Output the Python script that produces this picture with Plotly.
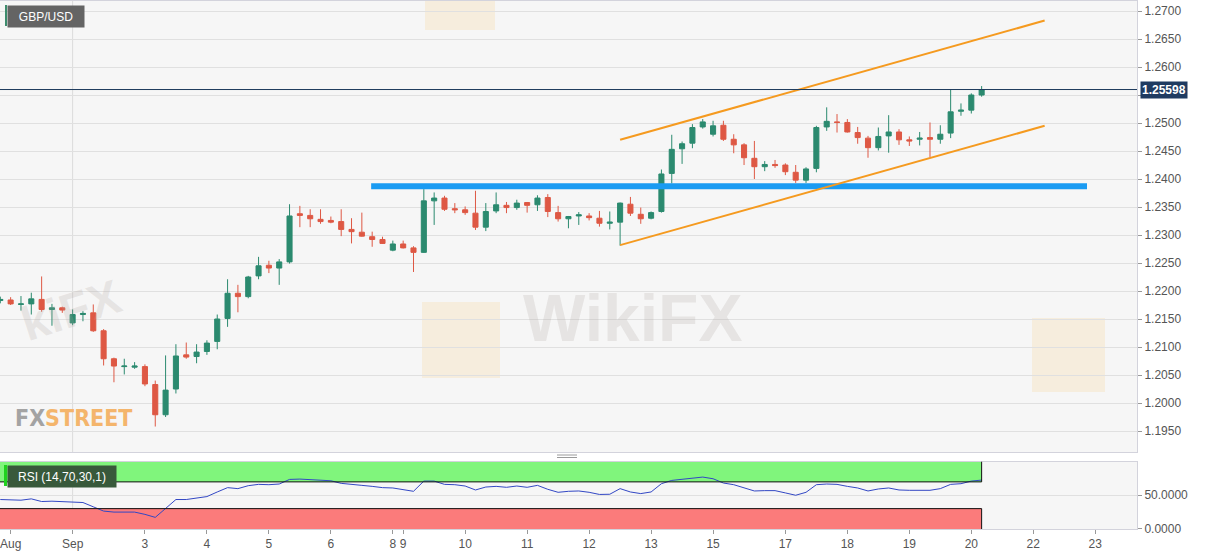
import plotly.graph_objects as go

# ---------------- data ----------------
open_ = [1.2183, 1.2184, 1.2176, 1.2177, 1.2185, 1.2167, 1.2170, 1.2143, 1.2158, 1.2161,
         1.2129, 1.2079, 1.2065, 1.2064, 1.2065, 1.2033, 1.1979, 1.2025, 1.2086, 1.2083,
         1.2092, 1.2110, 1.2151, 1.2196, 1.2190, 1.2227, 1.2246, 1.2241, 1.2252, 1.2338,
         1.2335, 1.2328, 1.2326, 1.2324, 1.2310, 1.2305, 1.2297, 1.2292, 1.2273, 1.2284,
         1.2277, 1.2269, 1.2361, 1.2366, 1.2347, 1.2345, 1.2339, 1.2314, 1.2343, 1.2353,
         1.2349, 1.2358, 1.2354, 1.2367, 1.2340, 1.2329, 1.2334, 1.2334, 1.2330, 1.2321,
         1.2323, 1.2355, 1.2337, 1.2330, 1.2342, 1.2410, 1.2454, 1.2464, 1.2493, 1.2480,
         1.2496, 1.2471, 1.2461, 1.2437, 1.2422, 1.2426, 1.2425, 1.2412, 1.2398, 1.2419,
         1.2493, 1.2502, 1.2501, 1.2483, 1.2473, 1.2456, 1.2477, 1.2484, 1.2470, 1.2471,
         1.2474, 1.2471, 1.2482, 1.2521, 1.2523, 1.2550]
high = [1.2190, 1.2189, 1.2191, 1.2197, 1.2226, 1.2177, 1.2172, 1.2167, 1.2164, 1.2176,
        1.2132, 1.2081, 1.2079, 1.2073, 1.2069, 1.2040, 1.2085, 1.2105, 1.2108, 1.2105,
        1.2112, 1.2158, 1.2221, 1.2211, 1.2227, 1.2261, 1.2254, 1.2257, 1.2355, 1.2352,
        1.2346, 1.2346, 1.2333, 1.2346, 1.2330, 1.2340, 1.2306, 1.2297, 1.2290, 1.2290,
        1.2280, 1.2382, 1.2376, 1.2370, 1.2357, 1.2351, 1.2379, 1.2357, 1.2376, 1.2359,
        1.2363, 1.2359, 1.2371, 1.2373, 1.2352, 1.2334, 1.2341, 1.2339, 1.2343, 1.2342,
        1.2358, 1.2368, 1.2349, 1.2342, 1.2417, 1.2479, 1.2467, 1.2498, 1.2507, 1.2504,
        1.2504, 1.2480, 1.2464, 1.2468, 1.2432, 1.2434, 1.2428, 1.2425, 1.2421, 1.2495,
        1.2528, 1.2516, 1.2507, 1.2493, 1.2477, 1.2492, 1.2514, 1.2489, 1.2476, 1.2484,
        1.2501, 1.2496, 1.2560, 1.2535, 1.2553, 1.2566]
low = [1.2178, 1.2175, 1.2165, 1.2158, 1.2163, 1.2138, 1.2161, 1.2139, 1.2146, 1.2127,
       1.2067, 1.2037, 1.2051, 1.2061, 1.2030, 1.1958, 1.1975, 1.2017, 1.2079, 1.2071,
       1.2086, 1.2096, 1.2136, 1.2162, 1.2187, 1.2221, 1.2232, 1.2211, 1.2249, 1.2314,
       1.2314, 1.2320, 1.2321, 1.2298, 1.2285, 1.2297, 1.2279, 1.2284, 1.2271, 1.2276,
       1.2234, 1.2268, 1.2318, 1.2343, 1.2339, 1.2336, 1.2309, 1.2307, 1.2339, 1.2339,
       1.2345, 1.2340, 1.2343, 1.2332, 1.2324, 1.2312, 1.2318, 1.2326, 1.2315, 1.2310,
       1.2281, 1.2334, 1.2320, 1.2328, 1.2340, 1.2392, 1.2427, 1.2455, 1.2490, 1.2476,
       1.2468, 1.2446, 1.2425, 1.2400, 1.2414, 1.2420, 1.2407, 1.2393, 1.2393, 1.2412,
       1.2486, 1.2483, 1.2483, 1.2463, 1.2438, 1.2451, 1.2447, 1.2461, 1.2459, 1.2460,
       1.2439, 1.2463, 1.2473, 1.2513, 1.2517, 1.2547]
close = [1.2185, 1.2177, 1.2177, 1.2186, 1.2167, 1.2170, 1.2166, 1.2158, 1.2160, 1.2129,
         1.2079, 1.2066, 1.2066, 1.2066, 1.2034, 1.1979, 1.2023, 1.2084, 1.2082, 1.2091,
         1.2107, 1.2150, 1.2196, 1.2190, 1.2225, 1.2245, 1.2241, 1.2252, 1.2334, 1.2335,
         1.2329, 1.2324, 1.2323, 1.2310, 1.2306, 1.2298, 1.2292, 1.2285, 1.2284, 1.2277,
         1.2269, 1.2361, 1.2366, 1.2346, 1.2345, 1.2340, 1.2314, 1.2342, 1.2354, 1.2349,
         1.2357, 1.2353, 1.2366, 1.2342, 1.2329, 1.2333, 1.2336, 1.2331, 1.2321, 1.2323,
         1.2357, 1.2339, 1.2329, 1.2340, 1.2409, 1.2453, 1.2463, 1.2492, 1.2502, 1.2495,
         1.2471, 1.2461, 1.2438, 1.2422, 1.2426, 1.2424, 1.2413, 1.2398, 1.2418, 1.2492,
         1.2503, 1.2501, 1.2484, 1.2474, 1.2456, 1.2476, 1.2484, 1.2470, 1.2468, 1.2473,
         1.2471, 1.2480, 1.2520, 1.2523, 1.2550, 1.25598]
rsi = [43.6, 42.6, 42.6, 44.6, 40.6, 41.1, 40.1, 39.1, 39.1, 32.7,
       26.3, 24.8, 24.8, 24.8, 21.4, 16.9, 30.2, 43.6, 43.6, 45.6,
       48.0, 54.9, 61.4, 59.9, 64.3, 66.3, 65.8, 66.8, 73.7, 74.2,
       73.2, 72.2, 71.7, 67.8, 66.8, 64.8, 63.3, 61.4, 60.9, 58.9,
       55.9, 71.2, 71.2, 66.3, 65.8, 63.8, 57.9, 62.3, 63.3, 61.9,
       63.8, 61.9, 64.8, 58.9, 54.4, 55.9, 56.4, 54.4, 51.2, 51.5,
       59.9, 54.9, 52.5, 54.9, 67.3, 72.2, 73.7, 76.2, 77.2, 74.7,
       68.3, 65.8, 60.9, 56.4, 56.9, 56.9, 53.5, 50.0, 54.4, 65.8,
       66.8, 66.3, 63.3, 60.9, 56.4, 59.4, 60.9, 57.9, 57.4, 57.4,
       57.4, 59.9, 66.3, 67.3, 71.2, 72.7]
candle_idx = list(range(len(close)))

date_tick_pos = [1, 7, 14, 20, 26, 32, 38, 39, 45, 51, 57, 63, 69, 76, 82, 88, 94, 100, 106]
date_tick_text = ["Aug", "Sep", "3", "4", "5", "6", "8", "9", "10", "11", "12",
                  "13", "15", "17", "18", "19", "20", "22", "23"]
price_ticks = [1.1950, 1.2000, 1.2050, 1.2100, 1.2150, 1.2200, 1.2250, 1.2300,
               1.2350, 1.2400, 1.2450, 1.2500, 1.2550, 1.2600, 1.2650, 1.2700]
# 1.2550 sits under the last-price tag, so its label is not shown
price_tick_text = ["1.1950", "1.2000", "1.2050", "1.2100", "1.2150", "1.2200", "1.2250", "1.2300",
                   "1.2350", "1.2400", "1.2450", "1.2500", "", "1.2600", "1.2650", "1.2700"]
rsi_ticks = [0, 50]
rsi_tick_text = ["0.0000", "50.0000"]
rsi_overbought, rsi_oversold = 70, 30

support_x = [35.9, 105.2]
support_y = [1.2387, 1.2387]
channel_x = [60, 101.1]
channel_upper_y = [1.2470, 1.2683]
channel_lower_y = [1.2282, 1.2495]
last_price = 1.25598
month_break = 7

# ---------------- styles ----------------
GREEN = "#2b8a6f"
RED = "#de5844"
W, H = 1207, 555
ML, MR, MT, MB = 0, 70, 0, 26
PW, PH = W - ML - MR, H - MT - MB


def pxx(px):
    return (px - ML) / PW


def pxy(py):
    return (PH - (py - MT)) / PH


FONT = "Liberation Sans, Arial, sans-serif"
WM = "rgba(175,165,160,0.22)"
WM_LOGO = "rgba(246,205,130,0.22)"

fig = go.Figure()
fig.add_trace(go.Candlestick(
    x=candle_idx, open=open_, high=high, low=low, close=close,
    increasing=dict(line=dict(color=GREEN, width=1), fillcolor=GREEN),
    decreasing=dict(line=dict(color=RED, width=1), fillcolor=RED),
    whiskerwidth=0, showlegend=False, hoverinfo="skip", xaxis="x", yaxis="y"))

fig.add_trace(go.Scatter(x=support_x, y=support_y, mode="lines",
                         line=dict(color="#1a9bf2", width=6), showlegend=False,
                         hoverinfo="skip", xaxis="x", yaxis="y"))
fig.add_trace(go.Scatter(x=channel_x, y=channel_upper_y, mode="lines",
                         line=dict(color="#f59a1f", width=2), showlegend=False,
                         hoverinfo="skip", xaxis="x", yaxis="y"))
fig.add_trace(go.Scatter(x=channel_x, y=channel_lower_y, mode="lines",
                         line=dict(color="#f59a1f", width=2), showlegend=False,
                         hoverinfo="skip", xaxis="x", yaxis="y"))

fig.add_trace(go.Scatter(x=candle_idx, y=rsi, mode="lines",
                         line=dict(color="#3247c4", width=1), showlegend=False,
                         hoverinfo="skip", xaxis="x2", yaxis="y2"))

last_i = candle_idx[-1]
shapes = [
    # RSI zones
    dict(type="rect", xref="x2", yref="y2", x0=-0.5, x1=last_i, y0=rsi_overbought, y1=100.5,
         fillcolor="#80f57c", line=dict(width=0), layer="below"),
    dict(type="rect", xref="x2", yref="y2", x0=-0.5, x1=last_i, y0=-0.5, y1=rsi_oversold,
         fillcolor="#fb7b7b", line=dict(width=0), layer="below"),
    dict(type="line", xref="x2", yref="y2", x0=-0.5, x1=last_i, y0=rsi_overbought, y1=rsi_overbought,
         line=dict(color="#111", width=1)),
    dict(type="line", xref="x2", yref="y2", x0=-0.5, x1=last_i, y0=rsi_oversold, y1=rsi_oversold,
         line=dict(color="#111", width=1)),
    dict(type="line", xref="x2", yref="y2", x0=last_i, x1=last_i, y0=rsi_overbought, y1=100.5,
         line=dict(color="#111", width=1)),
    dict(type="line", xref="x2", yref="y2", x0=last_i, x1=last_i, y0=-0.5, y1=rsi_oversold,
         line=dict(color="#111", width=1)),
    # month break vertical grid lines
    dict(type="line", xref="x", yref="y domain", x0=month_break, x1=month_break, y0=0, y1=1,
         line=dict(color="#dcdcdc", width=1), layer="below"),
    dict(type="line", xref="x2", yref="y2 domain", x0=month_break, x1=month_break, y0=0, y1=1,
         line=dict(color="#dcdcdc", width=1), layer="below"),
    # last price line
    dict(type="line", xref="paper", yref="y", x0=0, x1=1, y0=last_price, y1=last_price,
         line=dict(color="#1d3a5c", width=1)),
    # GBP/USD label accent
    dict(type="rect", xref="paper", yref="paper", x0=pxx(5), x1=pxx(7), y0=pxy(26), y1=pxy(5),
         fillcolor="#3d8c6d", line=dict(width=0)),
    # RSI label accent
    dict(type="rect", xref="paper", yref="paper", x0=pxx(4), x1=pxx(7), y0=pxy(486), y1=pxy(465),
         fillcolor="#1fd21f", line=dict(width=0)),
    # panel splitter handle
    dict(type="line", xref="paper", yref="paper", x0=pxx(557), x1=pxx(577), y0=pxy(455), y1=pxy(455),
         line=dict(color="#9a9a9a", width=1)),
    dict(type="line", xref="paper", yref="paper", x0=pxx(557), x1=pxx(577), y0=pxy(457.5), y1=pxy(457.5),
         line=dict(color="#9a9a9a", width=1)),
    # watermark logo squares
    dict(type="rect", xref="paper", yref="paper", x0=pxx(422), x1=pxx(500), y0=pxy(378), y1=pxy(302),
         fillcolor=WM_LOGO, line=dict(width=0), layer="below"),
    dict(type="rect", xref="paper", yref="paper", x0=pxx(1032), x1=pxx(1105), y0=pxy(392), y1=pxy(318),
         fillcolor=WM_LOGO, line=dict(width=0), layer="below"),
    dict(type="rect", xref="paper", yref="paper", x0=pxx(425), x1=pxx(495), y0=pxy(30), y1=pxy(1),
         fillcolor=WM_LOGO, line=dict(width=0), layer="below"),
]

annotations = [
    dict(xref="paper", yref="paper", x=pxx(7), y=pxy(5), xanchor="left", yanchor="top",
         text="GBP/USD", showarrow=False, bgcolor="#646464", width=72, height=17, borderpad=2,
         font=dict(color="white", size=12, family=FONT)),
    dict(xref="paper", yref="y", x=1, y=last_price, xanchor="left", yanchor="middle", xshift=3,
         text="<b>1.25598</b>", showarrow=False, bgcolor="#1f3b61", borderpad=1,
         font=dict(color="white", size=12, family=FONT)),
    dict(xref="paper", yref="paper", x=pxx(7), y=pxy(465), xanchor="left", yanchor="top",
         text="RSI (14,70,30,1)", showarrow=False, bgcolor="#38593b", width=104, height=17,
         borderpad=2, font=dict(color="white", size=12, family=FONT)),
    dict(xref="paper", yref="paper", x=pxx(13), y=pxy(418), xanchor="left", yanchor="middle",
         text="<b><span style='color:#a3a3a3'>FX</span><span style='color:#f4b56c'>STREET</span></b>",
         showarrow=False,
         font=dict(size=23, family="DejaVu Sans Condensed, Liberation Sans Narrow, Liberation Sans, sans-serif")),
    dict(xref="paper", yref="paper", x=pxx(632), y=pxy(318), xanchor="center", yanchor="middle",
         text="<b>WikiFX</b>", showarrow=False,
         font=dict(size=66, family=FONT, color=WM)),
    dict(xref="paper", yref="paper", x=pxx(70), y=pxy(310), xanchor="center", yanchor="middle",
         text="<b>kiFX</b>", showarrow=False, textangle=-18,
         font=dict(size=48, family=FONT, color=WM)),
]

fig.update_layout(
    width=W, height=H, template="none",
    margin=dict(l=ML, r=MR, t=MT, b=MB, pad=0),
    paper_bgcolor="white", plot_bgcolor="#f6f6f6",
    font=dict(family=FONT, size=12, color="#555"),
    showlegend=False, shapes=shapes, annotations=annotations,
    xaxis=dict(domain=[0, 1], range=[-0.03, 110.04], anchor="y", showticklabels=False,
               showgrid=False, zeroline=False, showline=True, mirror=True,
               linecolor="#d3d3dc", rangeslider=dict(visible=False), automargin=False),
    yaxis=dict(domain=[pxy(452), pxy(1)], range=[1.19125, 1.27179], side="right",
               anchor="x", tickvals=price_ticks, ticktext=price_tick_text, ticks="outside",
               ticklen=4, tickcolor="#999", gridcolor="#e0e0e0", gridwidth=1,
               zeroline=False, showline=True, mirror=True, linecolor="#d3d3dc",
               tickfont=dict(size=12, color="#555"), automargin=False),
    xaxis2=dict(domain=[0, 1], range=[-0.03, 110.04], anchor="y2", matches="x",
                tickvals=date_tick_pos, ticktext=date_tick_text, ticks="outside",
                ticklen=4, tickcolor="#999", showgrid=False, zeroline=False,
                showline=True, mirror=True, linecolor="#d3d3dc", ticklabeloverflow="allow",
                tickfont=dict(size=12, color="#555"), automargin=False),
    yaxis2=dict(domain=[0, pxy(461.5)], range=[-0.5, 100.5], side="right", anchor="x2",
                tickvals=rsi_ticks, ticktext=rsi_tick_text, ticks="outside", ticklen=4,
                tickcolor="#999", gridcolor="#e0e0e0", zeroline=False, showline=True,
                mirror=True, linecolor="#d3d3dc", tickfont=dict(size=12, color="#555"),
                automargin=False),
)

fig.write_html("out.html", config={"displayModeBar": False},
               post_script="document.body.style.margin='0';")
